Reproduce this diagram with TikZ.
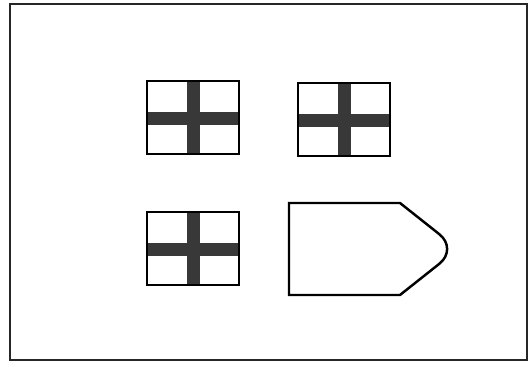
\documentclass[tikz,border=0pt]{standalone}
\usepackage{tikz}
\tikzset{
    window/.pic={
        % Cross bars
        \fill[black!78] (40,0) rectangle (53,73);
        \fill[black!78] (0,31) rectangle (92,44);
        % Frame
        \draw[line width=1.4pt] (0,0) rectangle (92,73);
    }
}
\begin{document}
\begin{tikzpicture}[x=0.02cm,y=-0.02cm]
        \useasboundingbox (0,0) rectangle (529,367);
        % Outer wall
        \draw[line width=1.5pt,black!85] (10,4) rectangle (527,360);
        \pic at (147,81) {window};
        \pic at (298,83) {window};
        \pic at (147,212) {window};
        % Door
        \draw[line width=1.4pt] (289,203) --++ (111,0) [rounded corners=13.5pt]-- (458,249) [sharp corners]-- (400,295) --++ (-111,0) --cycle;
    \end{tikzpicture}
\end{document}
